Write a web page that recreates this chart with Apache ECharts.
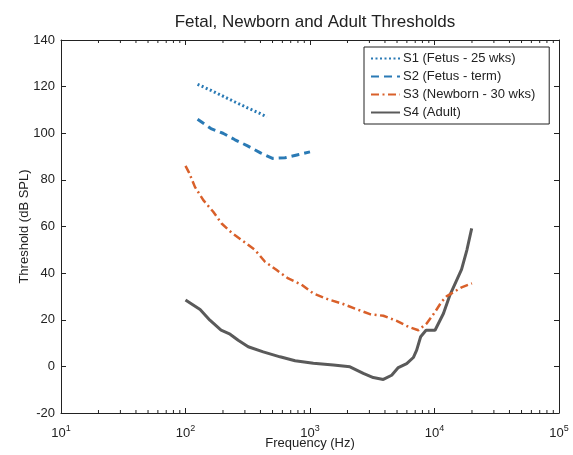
<!DOCTYPE html>
<html>
<head>
<meta charset="utf-8">
<script src="https://cdn.jsdelivr.net/npm/echarts@6/dist/echarts.min.js"></script>
<style>
html,body{margin:0;padding:0;background:#fff;}
#chart{width:573px;height:455px;}
</style>
</head>
<body>
<div id="chart"></div>
<script>
const titleText = 'Fetal, Newborn and Adult Thresholds';
const xName = 'Frequency (Hz)';
const yName = 'Threshold (dB SPL)';
const seriesNames = ['S1 (Fetus - 25 wks)', 'S2 (Fetus - term)', 'S3 (Newborn - 30 wks)', 'S4 (Adult)'];

const s1Freq = [125, 160, 200, 250, 315, 400, 450];
const s1Val  = [121, 118.4, 115.9, 113.4, 110.9, 108.4, 107];

const s2Freq = [125, 160, 200, 250, 315, 400, 500, 630, 800, 1000];
const s2Val  = [106, 102, 100, 97.2, 94.6, 91.6, 89.2, 89.5, 90.8, 92];

const s3Freq = [100, 107, 119, 139, 167, 195, 235, 291, 362, 435, 540, 669, 857, 1062, 1402, 1795, 2297, 3032, 3883, 4968, 6160, 7420, 8650, 10000, 11400, 12500, 13700, 16500, 20000];
const s3Val  = [86, 83, 77, 71.3, 66.3, 61.3, 57.3, 53.7, 49.9, 44.9, 41.3, 37.7, 35, 31.3, 28.7, 27, 24.8, 22.4, 21.7, 19.5, 17, 15.5, 18.4, 23, 27.7, 30, 31.3, 33.9, 35.6];

const s4Freq = [100, 131, 157, 193, 228, 265, 319, 421, 574, 759, 1064, 1540, 2094, 2680, 3221, 3880, 4530, 5120, 5980, 6760, 7190, 7740, 8550, 10100, 11800, 13300, 16500, 18200, 19900];
const s4Val  = [28.5, 24.4, 19.8, 15.5, 13.8, 11.2, 8.4, 6.2, 4.1, 2.4, 1.3, 0.6, -0.2, -3, -4.8, -5.6, -3.8, -0.5, 1.2, 3.8, 7, 12.7, 15.5, 15.5, 22.7, 30.6, 41.6, 49.9, 59.2];

const yMin = -20, yMax = 140, yStep = 20;
const xMin = 10, xMax = 100000;
const minorTickFreqs = [];
for (let d = 10; d < 100000; d *= 10) { for (let k = 2; k <= 9; k++) minorTickFreqs.push(d * k); }

const blue = '#2a7ab5';
const orange = '#d9602a';
const gray = '#5a5a5a';
const font = 'Liberation Sans, Arial, Helvetica, sans-serif';

function zip(a, b) { return a.map((v, i) => [v, b[i]]); }

const chart = echarts.init(document.getElementById('chart'), null, {renderer: 'canvas'});

const xLabel = {
  show: true,
  margin: 11,
  formatter: v => '{b|10}{s|' + Math.round(Math.log10(v)) + '}',
  rich: {
    b: {fontSize: 13, color: '#222', fontFamily: font, lineHeight: 16, verticalAlign: 'bottom'},
    s: {fontSize: 9, color: '#222', fontFamily: font, lineHeight: 16, verticalAlign: 'top'}
  }
};

const option = {
  animation: false,
  backgroundColor: '#fff',
  title: {
    text: titleText, left: 310, top: 9, textAlign: 'center',
    textStyle: {fontSize: 17, fontWeight: 'normal', color: '#222', fontFamily: font}
  },
  grid: {left: 61, right: 14, top: 40, bottom: 42, containLabel: false, outerBoundsMode: 'none'},
  legend: {
    orient: 'vertical', left: 364, top: 47,
    data: seriesNames,
    backgroundColor: '#fff', borderColor: '#222', borderWidth: 1,
    padding: [5, 14, 5, 6], itemGap: 5, itemWidth: 29, itemHeight: 13.5,
    itemStyle: {opacity: 0},
    textStyle: {fontSize: 13, color: '#222', fontFamily: font, padding: [0, 0, 0, -2]}
  },
  xAxis: [{
    type: 'log', logBase: 10, min: xMin, max: xMax,
    name: xName, nameLocation: 'middle', nameGap: 24, nameMoveOverlap: false,
    nameTextStyle: {fontSize: 13, color: '#222', fontFamily: font},
    axisLine: {show: true, onZero: false, lineStyle: {color: '#222', width: 1}},
    axisTick: {show: true, inside: true, length: 5, lineStyle: {color: '#222'}},
    axisLabel: xLabel,
    splitLine: {show: false}
  }, {
    type: 'log', logBase: 10, min: xMin, max: xMax, position: 'top',
    axisLine: {show: true, onZero: false, lineStyle: {color: '#222', width: 1}},
    axisTick: {show: true, inside: true, length: 5, lineStyle: {color: '#222'}},
    axisLabel: {show: false}, splitLine: {show: false}
  }],
  yAxis: [{
    type: 'value', min: yMin, max: yMax, interval: yStep,
    name: yName, nameLocation: 'middle', nameGap: 30, nameRotate: 90, nameMoveOverlap: false,
    nameTextStyle: {fontSize: 13, color: '#222', fontFamily: font},
    axisLine: {show: true, onZero: false, lineStyle: {color: '#222', width: 1}},
    axisTick: {show: true, inside: true, length: 5, lineStyle: {color: '#222'}},
    axisLabel: {fontSize: 13, color: '#222', fontFamily: font, margin: 6},
    splitLine: {show: false}
  }, {
    type: 'value', min: yMin, max: yMax, interval: yStep, position: 'right',
    axisLine: {show: true, onZero: false, lineStyle: {color: '#222', width: 1}},
    axisTick: {show: true, inside: true, length: 5, lineStyle: {color: '#222'}},
    axisLabel: {show: false}, splitLine: {show: false}
  }],
  series: [
    {
      name: seriesNames[0], type: 'line', data: zip(s1Freq, s1Val), showSymbol: false, symbol: 'none',
      lineStyle: {color: blue, width: 3, type: [2, 2.5]}, itemStyle: {color: blue}, z: 3
    },
    {
      name: seriesNames[1], type: 'line', data: zip(s2Freq, s2Val), showSymbol: false, symbol: 'none',
      lineStyle: {color: blue, width: 3, type: [8, 5]}, itemStyle: {color: blue}, z: 3
    },
    {
      name: seriesNames[2], type: 'line', data: zip(s3Freq, s3Val), showSymbol: false, symbol: 'none',
      lineStyle: {color: orange, width: 2.5, type: [8, 3.5, 2, 3.5]}, itemStyle: {color: orange}, z: 3
    },
    {
      name: seriesNames[3], type: 'line', data: zip(s4Freq, s4Val), showSymbol: false, symbol: 'none',
      lineStyle: {color: gray, width: 3}, itemStyle: {color: gray}, z: 2
    },
    {
      type: 'custom', silent: true, clip: false, z: 5,
      data: minorTickFreqs,
      renderItem: function (params, api) {
        const f = api.value(0);
        const pb = api.coord([f, yMin]);
        const pt = api.coord([f, yMax]);
        return {
          type: 'group',
          children: [
            {type: 'line', shape: {x1: pb[0], y1: pb[1], x2: pb[0], y2: pb[1] - 3}, style: {stroke: '#222', lineWidth: 1}},
            {type: 'line', shape: {x1: pt[0], y1: pt[1], x2: pt[0], y2: pt[1] + 3}, style: {stroke: '#222', lineWidth: 1}}
          ]
        };
      },
      encode: {x: 0}
    }
  ]
};
chart.setOption(option);
</script>
</body>
</html>
